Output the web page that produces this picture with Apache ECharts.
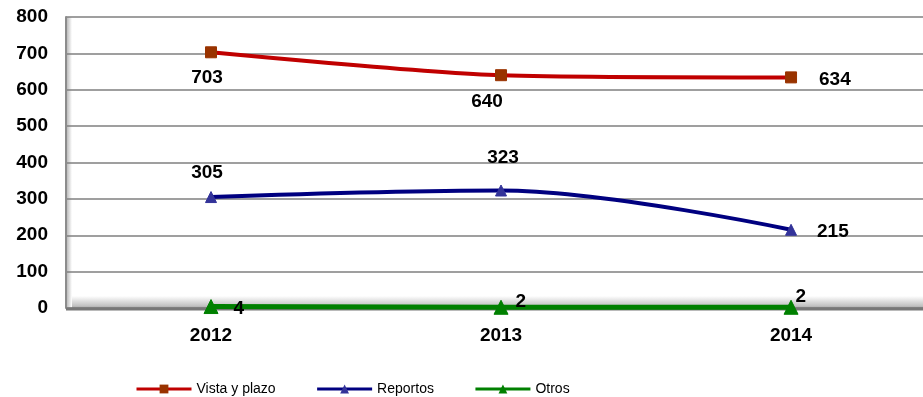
<!DOCTYPE html>
<html><head><meta charset="utf-8">
<script src="https://cdn.jsdelivr.net/npm/echarts@6/dist/echarts.min.js"></script>
<style>html,body{margin:0;padding:0;background:#fff}#c{width:923px;height:397px}</style>
</head><body><div id="c"></div>
<script>
var categories = ['2012', '2013', '2014'];
var vistaPlazo = [703, 640, 634];
var reportos = [305, 323, 215];
var otros = [4, 2, 2];
var yTicks = [0, 100, 200, 300, 400, 500, 600, 700, 800];

var chart = echarts.init(document.getElementById('c'));
var FF = 'Liberation Sans, Arial, sans-serif';
var lblFont = {fontFamily: FF, fontWeight: 'bold', fontSize: 19, color: '#000'};
function lbl(pos, off) { return Object.assign({show: true, position: pos, offset: off || [0, 0]}, lblFont); }
function pt(i, v, l) { return {value: [i, v], label: l}; }

chart.setOption({
  animation: false,
  backgroundColor: '#fff',
  grid: {left: 66, top: 17, right: 0, height: 291, containLabel: false},
  legend: {
    top: 377, left: 130, itemWidth: 55, itemHeight: 11, itemGap: 40,
    lineStyle: {width: 3},
    textStyle: {fontFamily: FF, fontSize: 14, color: '#000'},
    data: ['Vista y plazo', 'Reportos', 'Otros']
  },
  xAxis: {
    type: 'value', min: -0.5, max: 2.455, interval: 0.5,
    axisLine: {show: false}, axisTick: {show: false}, splitLine: {show: false},
    axisLabel: Object.assign({margin: 18, showMinLabel: true, showMaxLabel: false,
      formatter: function (v) { return Number.isInteger(v) ? categories[v] : ''; }}, lblFont)
  },
  yAxis: {
    type: 'value', min: yTicks[0], max: yTicks[yTicks.length - 1], interval: 100,
    axisLine: {show: true, onZero: false, lineStyle: {color: '#8c8c8c', width: 2}},
    axisTick: {show: false},
    splitLine: {lineStyle: {color: '#7f7f7f', width: 1.5}},
    axisLabel: Object.assign({margin: 18}, lblFont)
  },
  series: [
    {name: 'Vista y plazo', type: 'line', smooth: 0.25,
     symbol: 'rect', symbolSize: 11, z: 5,
     lineStyle: {color: '#C00000', width: 4}, itemStyle: {color: '#993300', borderColor: '#993300'},
     data: [
       pt(0, vistaPlazo[0], lbl('bottom', [-4, 5])),
       pt(1, vistaPlazo[1], lbl('bottom', [-14, 6])),
       pt(2, vistaPlazo[2], lbl('right', [17, 2]))
     ]},
    {name: 'Reportos', type: 'line', smooth: 0.35,
     symbol: 'triangle', symbolSize: 11, z: 5,
     lineStyle: {color: '#000080', width: 4}, itemStyle: {color: '#333399', borderColor: '#333399'},
     data: [
       pt(0, reportos[0], lbl('top', [-4, -4])),
       pt(1, reportos[1], lbl('top', [2, -12])),
       pt(2, reportos[2], lbl('right', [15, 2]))
     ]},
    {name: 'Otros', type: 'line',
     symbol: 'triangle', symbolSize: 14, z: 6,
     lineStyle: {color: '#008000', width: 5}, itemStyle: {color: '#008000', borderColor: '#008000'},
     data: [
       pt(0, otros[0], lbl('right', [10, 2])),
       pt(1, otros[1], lbl('right', [2, -6])),
       pt(2, otros[2], lbl('right', [-8, -11]))
     ]}
  ]
});

// 3D-style floor and wall decoration computed from the axes
var gridRect = chart.getModel().getComponent('grid').coordinateSystem.getRect();
var y0 = chart.convertToPixel({yAxisIndex: 0}, 0);
var yTop = chart.convertToPixel({yAxisIndex: 0}, 800);
chart.setOption({
  graphic: [
    {type: 'rect', z: -1, silent: true,
     shape: {x: gridRect.x, y: y0 - 12, width: gridRect.width, height: 12},
     style: {fill: new echarts.graphic.LinearGradient(0, 0, 0, 1, [
       {offset: 0, color: '#ffffff'}, {offset: 0.5, color: '#d9d9d9'}, {offset: 0.85, color: '#bfbfbf'}, {offset: 1, color: '#9a9a9a'}])}},
    {type: 'rect', z: -1, silent: true,
     shape: {x: gridRect.x, y: yTop, width: 6, height: y0 - yTop},
     style: {fill: new echarts.graphic.LinearGradient(0, 0, 1, 0, [
       {offset: 0, color: '#b0b0b0'}, {offset: 1, color: '#ffffff'}])}},
    {type: 'line', z: 1, silent: true,
     shape: {x1: gridRect.x, y1: y0 + 1, x2: gridRect.x + gridRect.width, y2: y0 + 1},
     style: {stroke: '#777', lineWidth: 3}}
  ]
});
</script></body></html>
